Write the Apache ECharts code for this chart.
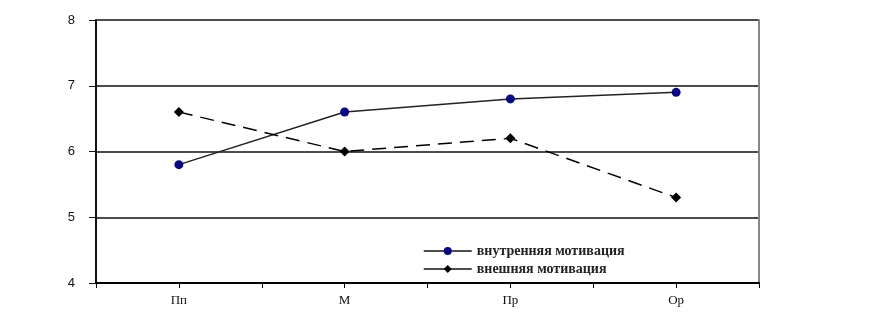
<!DOCTYPE html>
<html>
<head>
<meta charset="utf-8">
<script src="https://cdn.jsdelivr.net/npm/echarts@6/dist/echarts.min.js"></script>
<style>html,body{margin:0;padding:0;background:#fff}#c{width:870px;height:312px}</style>
</head>
<body>
<div id="c"></div>
<script>
const categories = ['Пп', 'М', 'Пр', 'Ор'];
const tickSlots = ['', '', '', '', '', '', '', ''];
const internalName = 'внутренняя мотивация';
const externalName = 'внешняя мотивация';
const internalValues = [5.8, 6.6, 6.8, 6.9];
const externalValues = [6.6, 6.0, 6.2, 5.3];

const chart = echarts.init(document.getElementById('c'), null, {renderer: 'canvas'});
chart.setOption({
  animation: false,
  backgroundColor: '#fff',
  grid: {left: 96, right: 111, top: 20, bottom: 29},
  legend: {
    left: 418, top: 239, orient: 'vertical', itemGap: 4,
    itemWidth: 48, itemHeight: 10,
    lineStyle: {type: 'solid', color: '#111', width: 1.5},
    textStyle: {fontFamily: 'Liberation Serif', fontSize: 14, fontWeight: 'bold', color: '#222'},
    data: [internalName, externalName]
  },
  xAxis: [{
    type: 'category', data: categories, boundaryGap: true,
    axisLine: {lineStyle: {color: '#000', width: 2}},
    axisTick: {show: false},
    axisLabel: {fontFamily: 'Liberation Serif', fontSize: 13, color: '#111', margin: 11}
  }, {
    type: 'category', data: tickSlots, boundaryGap: true, position: 'bottom',
    axisLine: {show: false},
    axisTick: {show: true, inside: false, length: 5, lineStyle: {color: '#000', width: 1}},
    axisLabel: {show: false}
  }],
  yAxis: [{
    type: 'value', min: 4, max: 8, interval: 1,
    axisLine: {show: true, lineStyle: {color: '#111', width: 2}},
    axisTick: {show: true, length: 7, lineStyle: {color: '#111'}},
    axisLabel: {fontFamily: 'Liberation Sans', fontSize: 13, color: '#111', margin: 21},
    splitLine: {lineStyle: {color: '#111', width: 1.5}}
  }, {
    type: 'value', min: 4, max: 8, interval: 1, position: 'right',
    axisLine: {show: true, lineStyle: {color: '#888', width: 2}},
    axisTick: {show: false}, axisLabel: {show: false}, splitLine: {show: false}
  }],
  series: [{
    name: internalName, type: 'line', data: internalValues,
    symbol: 'circle', symbolSize: 9,
    itemStyle: {color: '#0a0a80'},
    lineStyle: {color: '#222', width: 1.5},
    z: 3
  }, {
    name: externalName, type: 'line', data: externalValues,
    symbol: 'diamond', symbolSize: 10,
    itemStyle: {color: '#000'},
    lineStyle: {color: '#000', width: 1.5, type: [14, 8]},
    z: 3
  }]
});
</script>
</body>
</html>
